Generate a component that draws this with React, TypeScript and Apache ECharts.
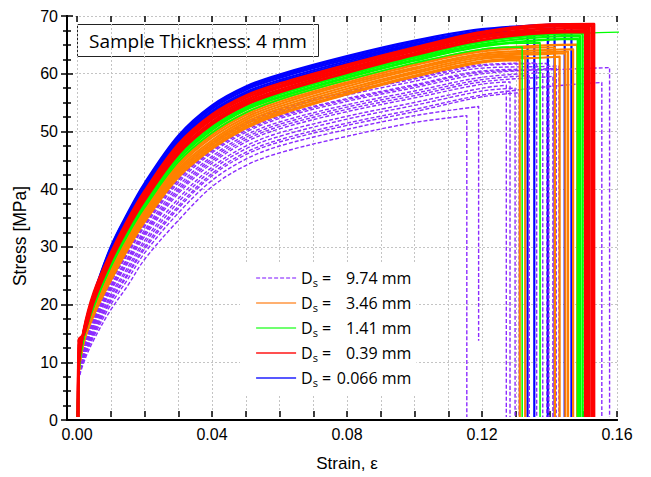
import { useEffect, useRef } from 'react';
import * as echarts from 'echarts';

// Shared strain grid (x values) for all curves
const strainGrid = [0.0003, 0.0005, 0.002, 0.005, 0.01, 0.015, 0.02, 0.03, 0.04, 0.05, 0.06, 0.08, 0.10, 0.12, 0.14];

const sizeLabels = ['9.74 mm', '3.46 mm', '1.41 mm', '0.39 mm', '0.066 mm'];
const xTickLabels = ['0.00', '0.04', '0.08', '0.12', '0.16'];
const yTicks = [0, 10, 20, 30, 40, 50, 60, 70];

// Each curve: stress at the grid points below its failure strain; last value = stress at failure
const violetStress = [
  [0, 6, 9.5, 13.5, 18.7, 22.9, 27.5, 34.3, 40.2, 43.9, 46.1, 49.0, 51.4, 52.6],
  [0, 6.2, 10.0, 14.1, 19.6, 24.0, 28.6, 35.6, 41.3, 45.0, 47.3, 50.2, 52.6, 54.2],
  [0, 6.5, 10.9, 15.3, 21.4, 26.1, 30.8, 38.1, 43.6, 47.3, 49.6, 52.5, 54.9, 57.4, 57.9],
  [0, 6.6, 11.2, 15.7, 22.0, 26.8, 31.5, 39.0, 44.3, 48.0, 50.3, 53.3, 55.7, 58.1, 58.5],
  [0, 6.7, 11.5, 16.1, 22.6, 27.5, 32.2, 39.8, 45.1, 48.8, 51.1, 54.1, 56.5, 58.9, 59.6],
  [0, 6.7, 11.6, 16.3, 22.9, 27.8, 32.6, 40.3, 45.5, 49.2, 51.5, 54.5, 56.9, 59.3, 60.1],
  [0, 6.8, 11.8, 16.6, 23.4, 28.4, 33.2, 40.9, 46.1, 49.7, 52.1, 55.1, 57.5, 59.9, 60.7],
  [0, 6.9, 12.1, 16.9, 23.8, 28.9, 33.7, 41.5, 46.6, 50.3, 52.6, 55.6, 58.0, 60.4, 60.8, 60.9],
  [0, 6.9, 12.3, 17.2, 24.2, 29.3, 34.2, 42.1, 47.1, 50.8, 53.2, 56.2, 58.6, 60.9, 61.2, 61.3],
  [0, 7, 12.4, 17.4, 24.5, 29.7, 34.6, 42.5, 47.5, 51.2, 53.6, 56.6, 59.0, 61.3, 61.7],
  [0, 6.3, 10.4, 14.7, 20.5, 25.0, 29.7, 36.8, 42.5, 46.2, 48.4, 51.3, 53.7, 56.2, 57.7, 58.4],
  [0, 6.8, 12.0, 16.8, 23.6, 28.6, 33.5, 41.3, 46.4, 50.0, 52.4, 55.4, 57.8, 60.2, 60.6, 61.0],
  [0, 7, 12.5, 17.5, 24.7, 29.9, 34.8, 42.8, 47.7, 51.4, 53.8, 56.8, 59.2, 61.5, 61.8],
  [0, 6.3, 10.3, 14.5, 20.2, 24.7, 29.3, 36.4, 42.1, 45.8, 48.0, 50.9, 53.3, 55.9, 56.6],
  [0, 6.4, 10.6, 15.0, 21.0, 25.6, 30.3, 37.5, 43.1, 46.8, 49.0, 52.0, 54.4, 56.9, 57.4],
  [0, 6.6, 11.3, 15.9, 22.3, 27.1, 31.9, 39.4, 44.7, 48.4, 50.7, 53.7, 56.1, 58.5, 59.4, 59.5],
];
const violetEnd = [0.1155, 0.119, 0.1272, 0.1283, 0.134, 0.138, 0.1398, 0.142, 0.1428, 0.1392, 0.1555, 0.1578, 0.1362, 0.131, 0.1298, 0.141];
const violetFloor = [0, 13.3, 0, 0, 0, 0, 0, 0, 0, 0, 0, 0, 0, 0, 0, 0];

const orangeStress = [
  [0, 8, 13.8, 19.2, 26.1, 31.7, 36.5, 44.5, 49.6, 53.1, 55.4, 58.8, 61.7, 64.1, 64.9, 65.0],
  [0, 7.5, 13.7, 19.0, 25.8, 31.3, 36.1, 44.1, 49.2, 52.7, 55.0, 58.4, 61.4, 63.8, 64.5, 64.5],
  [0, 7.5, 13.6, 18.8, 25.4, 31.0, 35.8, 43.7, 48.8, 52.3, 54.6, 58.1, 61.0, 63.4, 64.1, 64.2],
  [0, 7.5, 13.4, 18.6, 25.1, 30.6, 35.4, 43.3, 48.3, 51.9, 54.2, 57.7, 60.7, 63.1, 63.7, 63.8],
  [0, 7.5, 13.3, 18.4, 24.7, 30.2, 35.0, 42.9, 47.9, 51.5, 53.8, 57.3, 60.3, 62.8, 63.4, 63.5],
  [0, 7.5, 13.2, 18.2, 24.4, 29.8, 34.6, 42.5, 47.5, 51.1, 53.4, 56.9, 60.0, 62.5, 62.9],
  [0, 7.5, 13.1, 18.0, 24.0, 29.5, 34.3, 42.1, 47.1, 50.7, 53.0, 56.5, 59.6, 62.1, 62.8, 62.9],
  [0, 7.5, 13.0, 17.8, 23.8, 29.2, 34.0, 41.8, 46.8, 50.4, 52.8, 56.3, 59.4, 61.9, 62.3],
];
const orangeEnd = [0.1482, 0.1416, 0.147, 0.1455, 0.1447, 0.1328, 0.143, 0.1312];

const greenStress = [
  [0, 8, 14.3, 20.0, 27.2, 32.9, 37.8, 45.9, 51.1, 54.5, 56.7, 60.1, 63.1, 65.6, 66.9, 67.0],
  [0, 8, 14.1, 19.8, 26.8, 32.5, 37.4, 45.4, 50.6, 54.0, 56.3, 59.7, 62.7, 65.1, 66.4, 66.5],
  [0, 8, 14.0, 19.5, 26.5, 32.1, 36.9, 45.0, 50.1, 53.6, 55.8, 59.2, 62.2, 64.7, 65.9, 66.0],
  [0, 7.5, 13.8, 19.3, 26.1, 31.7, 36.5, 44.5, 49.6, 53.1, 55.4, 58.8, 61.8, 64.2, 64.6],
  [0, 8, 14.0, 19.6, 26.6, 32.3, 37.1, 45.2, 50.3, 53.8, 56.0, 59.4, 62.4, 64.9, 65.3],
  [0, 8, 14.2, 19.9, 27.0, 32.7, 37.6, 45.7, 50.9, 54.3, 56.5, 59.9, 62.9, 65.4, 66.7, 67.3],
];
const greenEnd = [0.1498, 0.149, 0.1484, 0.1319, 0.1372, 0.17];

const redStress = [
  [0, 8.5, 15.2, 21.8, 28.6, 34.4, 39.4, 47.6, 52.8, 56.1, 58.2, 61.5, 64.5, 67.2, 68.5, 68.6],
  [0, 9, 15.0, 21.4, 28.3, 34.0, 39.0, 47.2, 52.4, 55.7, 57.8, 61.2, 64.2, 66.9, 68.2, 68.3],
  [0, 10, 14.8, 21.0, 27.9, 33.7, 38.6, 46.8, 52.0, 55.3, 57.5, 60.8, 63.9, 66.5, 67.8, 67.9],
  [0, 12, 14.6, 20.6, 27.6, 33.3, 38.2, 46.3, 51.5, 54.9, 57.1, 60.5, 63.5, 66.2, 67.4, 67.5],
  [0, 13.5, 14.4, 20.2, 27.2, 32.9, 37.8, 45.9, 51.1, 54.5, 56.7, 60.1, 63.2, 65.8, 67.1, 67.2],
];
const redEnd = [0.1532, 0.1525, 0.1518, 0.1512, 0.1506];

const blueStress = [
  [0, 8, 15.0, 21.5, 29.7, 35.6, 40.8, 49.1, 54.4, 57.7, 59.8, 63.0, 65.7, 67.7, 68.5, 68.6],
  [0, 8, 14.9, 21.4, 29.5, 35.4, 40.5, 48.8, 54.1, 57.4, 59.5, 62.7, 65.4, 67.4, 68.4, 68.4],
  [0, 8, 14.8, 21.2, 29.3, 35.1, 40.2, 48.5, 53.8, 57.1, 59.2, 62.4, 65.1, 67.2, 68.2, 68.2],
  [0, 8, 14.8, 21.1, 29.0, 34.9, 40.0, 48.2, 53.4, 56.7, 58.8, 62.1, 64.9, 66.9, 67.3],
  [0, 8, 14.7, 20.9, 28.8, 34.6, 39.7, 47.9, 53.1, 56.4, 58.5, 61.8, 64.6, 66.7, 67.0],
  [0, 8, 14.6, 20.8, 28.6, 34.4, 39.4, 47.6, 52.8, 56.1, 58.2, 61.5, 64.3, 66.4, 67.1],
];
const blueEnd = [0.1465, 0.1445, 0.1415, 0.1355, 0.1335, 0.1395];

const AXIS_FONT = 'Liberation Sans, Arial, sans-serif';
const TEXT_FONT = 'Open Sans, Noto Sans, sans-serif';

function buildCurve(stress: number[], end: number, floor: number): number[][] {
  const pts: number[][] = [];
  let k = 0;
  while (k < strainGrid.length && strainGrid[k] < end && k < stress.length - 1) {
    pts.push([strainGrid[k], stress[k]]);
    k++;
  }
  // failure point (repeated so the smoothed curve meets the vertical drop with a sharp corner)
  pts.push([end, stress[k]]);
  pts.push([end, stress[k]]);
  pts.push([end, floor]);
  return pts;
}

function makeSeries(name: string, color: string, widths: number[] | number, dashed: boolean,
  stressArr: number[][], ends: number[], floors?: number[]) {
  return stressArr.map((s, i) => ({
    type: 'line',
    name,
    xAxisIndex: 2,
    yAxisIndex: 2,
    data: buildCurve(s, ends[i], floors ? floors[i] : 0),
    symbol: 'none',
    smooth: 0.35,
    silent: true,
    clip: true,
    emphasis: { disabled: true },
    lineStyle: {
      color,
      width: Array.isArray(widths) ? widths[i] : widths,
      type: dashed ? [4, 2] : 'solid',
      join: 'round',
      cap: 'butt',
    },
  }));
}

export default function App() {
  const ref = useRef<HTMLDivElement>(null);
  useEffect(() => {
    if (!ref.current) return;
    const chart = echarts.init(ref.current, undefined, { renderer: 'svg' });
    const gridLine = { show: true, lineStyle: { color: '#c4c4c4', type: [2, 2] as any, width: 1 } };
    const axisLine = { show: true, lineStyle: { color: '#000', width: 2 } };
    const tick = { show: true, inside: true, length: 6, lineStyle: { color: '#000', width: 1.5 } };
    const minor = { show: true, splitNumber: 4, length: 4, lineStyle: { color: '#000', width: 1.5 } };
    const series = [
      ...makeSeries(sizeLabels[4], '#0000ff', 2.2, false, blueStress, blueEnd),
      ...makeSeries(sizeLabels[0], '#8c2bff', 1.4, true, violetStress, violetEnd, violetFloor),
      ...makeSeries(sizeLabels[1], '#ff8000', 2.2, false, orangeStress, orangeEnd),
      ...makeSeries(sizeLabels[2], '#00ff00', [2.4, 2.4, 2.4, 1.6, 1.6, 1.3], false, greenStress, greenEnd),
      ...makeSeries(sizeLabels[3], '#ff0000', 2.6, false, redStress, redEnd),
    ];
    const legendColors = ['#a860ff', '#ffb070', '#70ff70', '#ff5050', '#2020ff'];
    const option: any = {
      animation: false,
      grid: [
        { left: 67, right: 34, top: 16, bottom: 57 },
        { left: 77, right: 34, top: 16, bottom: 57 },
      ],
      xAxis: [
        { type: 'value', gridIndex: 0, min: 0, max: 1, position: 'bottom', axisLine, axisTick: { show: false }, axisLabel: { show: false }, splitLine: { show: false } },
        { type: 'value', gridIndex: 0, min: 0, max: 1, position: 'top', axisLine, axisTick: { show: false }, axisLabel: { show: false }, splitLine: { show: false } },
        {
          type: 'value', gridIndex: 1, min: 0, max: 0.16, interval: 0.01, position: 'bottom',
          name: 'Strain, ε', nameLocation: 'middle', nameGap: 38,
          nameTextStyle: { fontFamily: AXIS_FONT, fontSize: 17, color: '#000' },
          axisLine: { show: false },
          axisTick: tick,
          axisLabel: {
            show: true, margin: 9, color: '#000', fontFamily: AXIS_FONT, fontSize: 16,
            formatter: (v: number) => {
              const idx = Math.round(v * 100);
              return idx % 4 === 0 ? xTickLabels[idx / 4] : '';
            },
          },
          splitLine: gridLine,
        },
        {
          type: 'value', gridIndex: 1, min: 0, max: 0.16, interval: 0.01, position: 'top',
          axisLine: { show: false }, axisTick: tick,
          axisLabel: { show: false }, splitLine: { show: false },
        },
      ],
      yAxis: [
        {
          type: 'value', gridIndex: 0, min: 0, max: 70, interval: 10, position: 'left',
          name: 'Stress [MPa]', nameLocation: 'middle', nameGap: 36,
          nameTextStyle: { fontFamily: AXIS_FONT, fontSize: 17.5, color: '#000', padding: [0, 36, 0, 0] },
          axisLine, axisTick: tick, minorTick: minor,
          axisLabel: {
            show: true, margin: 9, color: '#000', fontFamily: AXIS_FONT, fontSize: 16,
            formatter: (v: number) => String(yTicks[Math.round(v / 10)]),
          },
          splitLine: gridLine,
        },
        {
          type: 'value', gridIndex: 0, min: 0, max: 70, interval: 10, position: 'right',
          axisLine, axisTick: tick, minorTick: minor,
          axisLabel: { show: false }, splitLine: { show: false },
        },
        { type: 'value', gridIndex: 1, min: 0, max: 70, show: false },
      ],
      legend: {
        orient: 'vertical',
        left: 240,
        top: 263,
        padding: [7, 5, 6, 15],
        backgroundColor: '#fff',
        itemWidth: 40,
        itemHeight: 14,
        itemGap: 7,
        selectedMode: false,
        data: [0, 1, 2, 3, 4].map((i) => ({
          name: sizeLabels[i],
          lineStyle: { color: legendColors[i], width: i === 0 || i === 4 ? 1.3 : 2.2, type: i === 0 ? [4, 2] : 'solid' },
          itemStyle: { color: legendColors[i], opacity: 0, borderWidth: 0 },
        })),
        formatter: (name: string) => `{d|D}{s|s}{e| = }{v|${name}}`,
        textStyle: {
          fontFamily: TEXT_FONT, fontSize: 16, color: '#000',
          rich: {
            d: { fontFamily: TEXT_FONT, fontSize: 16, lineHeight: 20, color: '#000' },
            s: { fontFamily: TEXT_FONT, fontSize: 11, lineHeight: 11, verticalAlign: 'bottom', color: '#000' },
            e: { fontFamily: TEXT_FONT, fontSize: 16, lineHeight: 20, color: '#000' },
            v: { fontFamily: TEXT_FONT, fontSize: 16, lineHeight: 20, color: '#000', width: 76, align: 'right' },
          },
        },
      },
      graphic: [
        {
          type: 'group', left: 77, top: 24, z: 100,
          children: [
            { type: 'rect', shape: { x: 0.5, y: 0.5, width: 241, height: 32 }, style: { fill: '#fff', stroke: '#222', lineWidth: 1 } },
            { type: 'text', x: 121, y: 17, style: { text: 'Sample Thickness: 4 mm', fontFamily: TEXT_FONT, fontSize: 19, fill: '#000', align: 'center', verticalAlign: 'middle' } },
          ],
        },
      ],
      series,
    };
    chart.setOption(option);
    return () => chart.dispose();
  }, []);
  return <div ref={ref} style={{ position: 'fixed', left: 0, top: 0, width: 651, height: 477, background: '#fff' }} />;
}
